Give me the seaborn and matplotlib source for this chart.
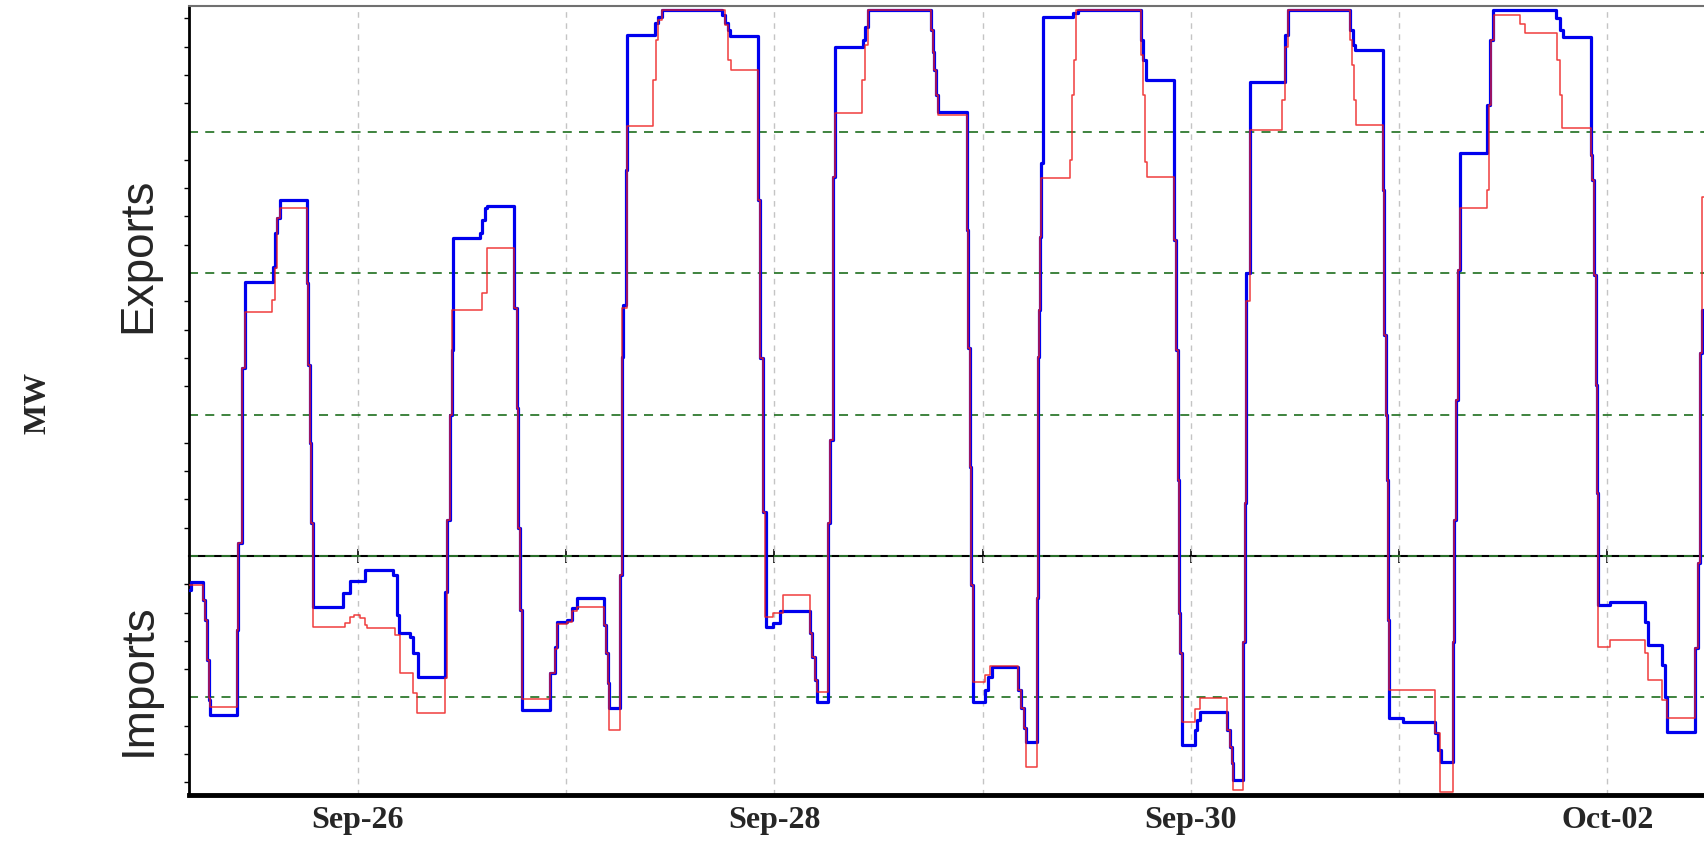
import numpy as np
import pandas as pd
import matplotlib
matplotlib.use("Agg")
import matplotlib.pyplot as plt
import matplotlib.dates as mdates
import matplotlib.ticker as mticker
import seaborn as sns

# hours after Sep-25 00:00 and MW (positive = exports, negative = imports)
blue_hours = [
    4.56, 4.79, 6.18, 6.41, 6.64, 6.87, 6.98,
    10.09, 10.21, 10.67, 11.02, 14.25, 14.48, 14.71, 15.05,
    18.10, 18.27, 18.50, 18.62, 18.85, 22.31, 23.11, 24.84,
    28.07, 28.53, 28.76, 30.03, 30.37, 30.95,
    34.06, 34.29, 34.63, 34.87, 34.98, 38.09, 38.33, 38.67, 38.90,
    42.01, 42.36, 42.47, 42.70, 42.93, 46.16, 46.74, 46.97, 48.12, 48.70, 49.27,
    52.38, 52.61, 52.84, 52.96,
    54.22, 54.45, 54.57, 54.91, 55.03, 58.25, 58.60, 59.06,
    65.97, 66.32, 66.67, 66.90, 70.12, 70.40, 70.70, 71.04, 71.85, 72.65,
    76.11, 76.34, 76.69, 76.92,
    78.19, 78.42, 78.76, 78.99, 82.22, 82.45, 82.79,
    90.06, 90.29, 90.40, 90.63, 90.86, 94.20, 94.32, 94.55, 94.67, 94.90,
    96.29, 96.63, 97.09, 100.08, 100.43, 100.77, 101.00,
    102.27, 102.39, 102.50, 102.62, 102.73, 102.96, 106.42, 106.99,
    114.25, 114.48, 114.83, 118.06, 118.29, 118.52, 118.64, 118.75, 118.98,
    120.48, 120.71, 121.05, 124.16, 124.51, 124.74, 124.86,
    126.00, 126.23, 126.35, 126.81, 130.85, 131.19,
    138.33, 138.68, 138.91, 142.14, 142.25, 142.48, 142.60, 142.72, 142.83,
    144.44, 148.13, 148.47, 148.82,
    150.20, 150.32, 150.55, 150.78, 151.01, 154.12, 154.47, 154.81,
    162.07, 162.53, 162.88, 166.10, 166.22, 166.45, 166.68, 166.79, 166.91,
    168.29, 172.33, 172.68, 174.29, 174.63, 174.86,
    178.08, 178.43, 178.66, 178.89, 179.30,
]
blue_mw = [
    -120, -92, -155, -226, -367, -509, -562,
    -262, 46, 664, 968, 1021, 1141, 1195, 1258,
    965, 675, 400, 117, -180, -131, -88, -49,
    -67, -209, -272, -286, -343, -428,
    -127, 127, 498, 728, 1124, 1141, 1187, 1230, 1237,
    876, 523, 100, -191, -544, -413, -322, -233, -226, -184, -148,
    -244, -343, -449, -537,
    -67, 703, 887, 1364, 1841, 1884, 1905, 1930,
    1912, 1884, 1859, 1838, 1258, 700, 156, -251, -237, -194,
    -272, -357, -438, -516,
    117, 410, 1339, 1799, 1824, 1869, 1930,
    1859, 1781, 1718, 1629, 1569, 1152, 735, 315, -103, -516,
    -474, -428, -392, -474, -537, -608, -657,
    -148, 703, 869, 1127, 1389, 1905, 1919, 1930,
    1824, 1753, 1682, 1117, 728, 269, -201, -343, -668,
    -615, -580, -551, -615, -675, -732, -792,
    -304, 187, 1000, 1675, 1841, 1930,
    1859, 1806, 1788, 1293, 781, 498, 269, -226, -573,
    -587, -626, -686, -728,
    -304, 127, 551, 1011, 1424, 1594, 1824, 1930,
    1901, 1859, 1834, 1417, 1329, 993, 604, 223, -173,
    -163, -233, -315, -385, -498, -622,
    -325, -25, 717, 869, 869,
]

red_hours = [
    4.56, 6.18, 6.41, 6.64, 6.87, 6.98,
    10.09, 10.21, 10.67, 11.02, 14.13, 14.48, 14.71, 15.05,
    18.10, 18.27, 18.50, 18.62, 18.85, 22.50, 23.10, 23.60, 24.30, 24.84, 25.07,
    28.30, 28.87, 30.37, 30.83,
    34.06, 34.29, 34.63, 34.87, 38.33, 38.90,
    42.01, 42.36, 42.47, 42.70, 42.93, 46.16, 46.74, 46.97, 48.12, 48.70, 49.27,
    52.38, 52.61, 52.84, 52.96,
    54.22, 54.45, 55.03, 58.02, 58.37, 58.60, 59.06,
    66.32, 66.67, 67.01, 70.12, 70.40, 70.70, 70.93, 71.85, 73.00,
    76.11, 76.34, 76.69, 76.92,
    78.19, 78.42, 78.76, 78.99, 82.10, 82.45, 82.79,
    90.06, 90.29, 90.40, 90.63, 90.86, 94.20, 94.32, 94.55, 94.67, 94.90,
    96.29, 96.86, 100.08, 100.43, 100.77, 101.00,
    102.27, 102.39, 102.50, 102.62, 102.73, 106.07, 106.30, 106.53, 106.76,
    114.25, 114.48, 114.71, 114.94, 118.06, 118.29, 118.52, 118.64, 118.75, 118.98,
    120.48, 121.05, 124.16, 124.51, 124.74, 124.86,
    126.00, 126.23, 126.35, 126.81, 130.50, 130.85, 131.19,
    138.33, 138.56, 138.79, 139.02, 142.14, 142.25, 142.48, 142.60, 142.72, 142.83,
    148.13, 148.70,
    150.20, 150.32, 150.55, 150.78, 151.01, 154.12, 154.35, 154.58, 154.93,
    157.92, 158.50, 162.18, 162.53, 162.76,
    166.10, 166.22, 166.45, 166.68, 166.79, 166.91,
    168.29, 172.33, 172.68, 174.29, 174.86,
    178.08, 178.43, 178.66, 178.89, 179.30,
]
red_mw = [
    -102, -155, -226, -367, -502, -534,
    -262, 46, 664, 862, 905, 1018, 1195, 1230,
    965, 675, 400, 117, -251, -237, -216, -209, -220, -244, -254,
    -279, -413, -484, -555,
    -431, 127, 498, 869, 929, 1088,
    876, 523, 100, -191, -505, -413, -330, -240, -233, -195, -180,
    -244, -343, -449, -615,
    -67, 876, 1520, 1682, 1824, 1894, 1930,
    1877, 1753, 1718, 1258, 700, 156, -216, -201, -138,
    -272, -357, -438, -481,
    117, 410, 1339, 1566, 1682, 1806, 1930,
    1859, 1781, 1718, 1629, 1558, 1152, 735, 315, -103, -445,
    -420, -389, -474, -537, -608, -746,
    -148, 703, 869, 1127, 1336, 1399, 1629, 1753, 1930,
    1771, 1629, 1392, 1339, 1117, 728, 269, -201, -343, -587,
    -540, -502, -615, -675, -732, -827,
    -304, 187, 900, 1505, 1611, 1800, 1930,
    1824, 1735, 1611, 1523, 1293, 781, 498, 269, -226, -474,
    -626, -834,
    -304, 127, 551, 1011, 1230, 1293, 1594, 1824, 1912,
    1880, 1848, 1753, 1629, 1513,
    1417, 1329, 993, 604, 223, -322,
    -297, -343, -438, -509, -573,
    -325, -25, 717, 1269, 1269,
]

base = pd.Timestamp("2008-09-25")
df_blue = pd.DataFrame({"time": base + pd.to_timedelta(blue_hours, unit="h"), "MW": blue_mw})
df_red = pd.DataFrame({"time": base + pd.to_timedelta(red_hours, unit="h"), "MW": red_mw})

sns.set_style("white")
fig = plt.figure(figsize=(17.04, 8.41), dpi=100)
ax = fig.add_axes([189 / 1704, 1 - 795 / 841, 1 - 189 / 1704, (795 - 6) / 841])

sns.lineplot(data=df_blue, x="time", y="MW", ax=ax, color="#0000ee", lw=2.3,
             drawstyle="steps-post", estimator=None, zorder=3)
sns.lineplot(data=df_red, x="time", y="MW", ax=ax, color="#ee1c1c", lw=1.1, alpha=0.85,
             drawstyle="steps-post", estimator=None, zorder=4)

ax.set_xlim(base + pd.Timedelta(hours=4.56), base + pd.Timedelta(hours=179.12))
ax.set_ylim(-845, 1944)
ax.set_xlabel("")
ax.set_ylabel("")

# x axis: a label every second day, a gray dashed line every day
ax.xaxis.set_major_locator(mdates.DayLocator(bymonthday=[26, 28, 30, 2]))
ax.xaxis.set_major_formatter(mdates.DateFormatter("%b-%d"))
ax.xaxis.set_minor_locator(mdates.DayLocator())
ax.grid(axis="x", which="both", color="#c4c4c4", linestyle=(0, (4, 4)), linewidth=1)
ax.tick_params(axis="x", which="both", direction="out", length=5, width=1.5, color="black", pad=3)
for lbl in ax.get_xticklabels():
    lbl.set_fontfamily("Liberation Serif")
    lbl.set_fontweight("bold")
    lbl.set_fontsize(23)

# y axis: no numbers, ticks every 100 MW, green dashes every 500 MW
ax.yaxis.set_major_locator(mticker.MultipleLocator(500))
ax.yaxis.set_minor_locator(mticker.MultipleLocator(100))
ax.grid(axis="y", which="major", color="#2f7a2f", linestyle=(0, (5, 4)), linewidth=1.3)
ax.tick_params(axis="y", which="major", direction="out", length=6.5, width=1, color="black", labelleft=False)
ax.tick_params(axis="y", which="minor", direction="out", length=3.6, width=1, color="black", left=True)

ax.spines["left"].set_linewidth(2)
ax.spines["left"].set_color("black")
ax.spines["bottom"].set_linewidth(3.5)
ax.spines["bottom"].set_color("black")
ax.spines["top"].set_linewidth(1.5)
ax.spines["top"].set_color("#707070")
ax.spines["right"].set_visible(False)

# zero line with day ticks
zero = ax.secondary_xaxis(0, transform=ax.transData)
zero.xaxis.set_major_locator(mdates.DayLocator())
zero.xaxis.set_minor_locator(mticker.NullLocator())
zero.tick_params(axis="x", which="both", direction="inout", length=10, width=1.2,
                 color="black", labelbottom=False, labeltop=False)
zero.spines["bottom"].set_linewidth(1.5)
zero.spines["bottom"].set_color("black")

fig.text(138 / 1704, 1 - 255 / 841, "Exports", rotation=90, ha="center", va="center",
         fontsize=33, family="Liberation Sans")
fig.text(139 / 1704, 1 - 680 / 841, "Imports", rotation=90, ha="center", va="center",
         fontsize=33, family="Liberation Sans")
fig.text(38 / 1704, 1 - 403 / 841, "MW", rotation=90, ha="center", va="center",
         fontsize=23, family="Liberation Serif", fontweight="bold")

fig.savefig("out.png", dpi=100, facecolor="white")
